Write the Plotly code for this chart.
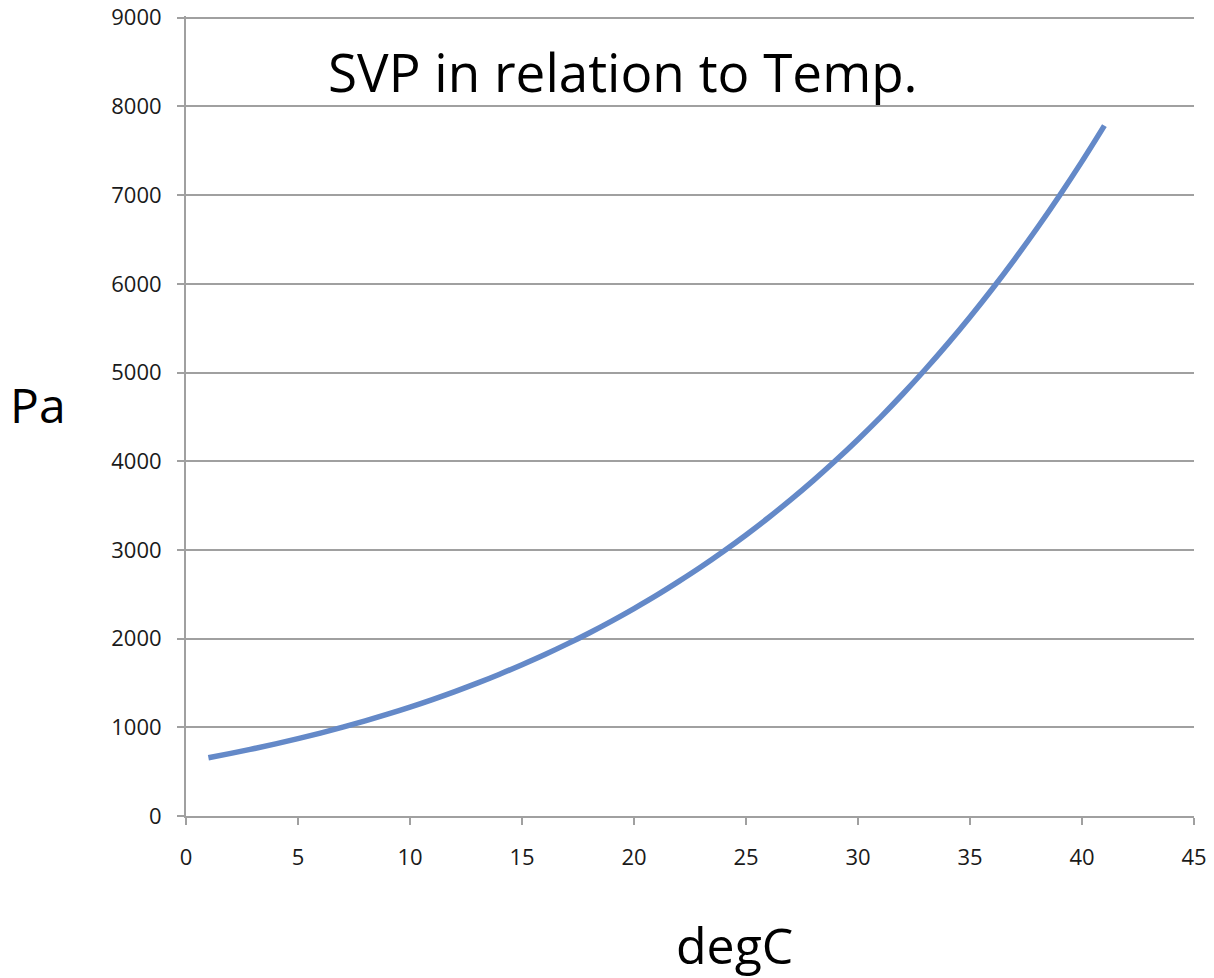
import plotly.graph_objects as go

# saturation vapour pressure, one point per degree
temp_c = list(range(1, 42))
svp_pa = [657, 706, 758, 813, 872, 935, 1002, 1073, 1148, 1228,
          1313, 1403, 1498, 1599, 1706, 1818, 1938, 2064, 2198, 2339,
          2487, 2645, 2810, 2985, 3169, 3363, 3567, 3782, 4008, 4246,
          4495, 4758, 5034, 5323, 5627, 5945, 6280, 6630, 6997, 7381,
          7784]

x_ticks = [0, 5, 10, 15, 20, 25, 30, 35, 40, 45]
y_ticks = [0, 1000, 2000, 3000, 4000, 5000, 6000, 7000, 8000, 9000]

FONT = "Open Sans"
GREY = "#a0a0a0"

fig = go.Figure()
fig.add_trace(go.Scatter(
    x=temp_c,
    y=svp_pa,
    mode="lines",
    line=dict(color="#6489c8", width=5.5, shape="spline"),
    showlegend=False,
))

# page body has an 8px margin, so the figure is sized to fit inside it
fig.update_layout(
    width=1206,
    height=970,
    margin=dict(l=178, r=20, t=8, b=162),
    paper_bgcolor="white",
    plot_bgcolor="white",
    font=dict(family=FONT, color="#1a1a1a"),
    annotations=[
        dict(text="SVP in relation to Temp.", xref="paper", yref="paper",
             x=0.4335, y=0.93, xanchor="center", yanchor="middle",
             showarrow=False, font=dict(size=53, family=FONT, color="#000")),
        dict(text="Pa", xref="paper", yref="paper",
             x=-0.1468, y=0.514, xanchor="center", yanchor="middle",
             showarrow=False, font=dict(size=48, family=FONT, color="#000")),
        dict(text="degC", xref="paper", yref="paper",
             x=0.5437, y=-0.161, xanchor="center", yanchor="middle",
             showarrow=False, font=dict(size=50, family=FONT, color="#000")),
    ],
)

fig.update_xaxes(
    range=[0, 45],
    tickvals=x_ticks,
    ticks="outside",
    ticklen=7,
    tickcolor=GREY,
    tickwidth=2,
    ticklabelstandoff=14,
    showline=True,
    linecolor=GREY,
    linewidth=2,
    showgrid=False,
    zeroline=False,
    automargin=False,
    tickfont=dict(size=22, family=FONT, color="#1a1a1a"),
)
# a touch of headroom so the 9000 gridline is not clipped at the edge
fig.update_yaxes(
    range=[0, 9020],
    tickvals=y_ticks,
    ticks="outside",
    ticklen=7,
    tickcolor=GREY,
    tickwidth=2,
    ticklabelstandoff=11,
    ticklabeloverflow="allow",
    showline=True,
    linecolor=GREY,
    linewidth=2,
    showgrid=True,
    gridcolor=GREY,
    gridwidth=2,
    zeroline=False,
    automargin=False,
    tickfont=dict(size=22, family=FONT, color="#1a1a1a"),
)

fig.write_html("out.html")
